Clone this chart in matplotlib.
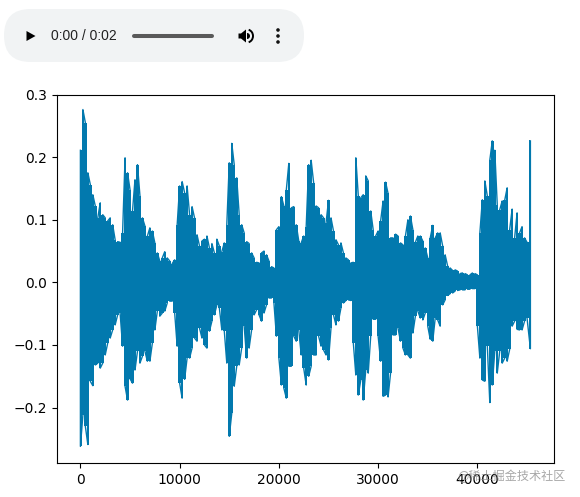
import matplotlib
matplotlib.use('Agg')
import matplotlib.pyplot as plt
from matplotlib.patches import FancyBboxPatch, Polygon, Circle, Wedge, Arc
import numpy as np

# waveform envelope, one value every 250 samples
upper = [.212, .276, .255, .175, .156, .140, .122, .103, .127, .108, .103, .098, .103, .092, .068, .065, .064, .079,
         .199, .175, .148, .114, .164, .188, .138, .103, .090, .074, .087, .082, .063, .047, .034, .039, .049, .039,
         .034, .030, .036, .092, .154, .161, .143, .154, .108, .121, .103, .076, .058, .066, .069, .074, .055, .062,
         .047, .069, .058, .049, .063, .092, .191, .222, .188, .167, .108, .092, .079, .065, .062, .047, .039, .032,
         .031, .047, .050, .044, .034, .025, .023, .084, .089, .137, .122, .148, .190, .119, .121, .092, .066,
         .063, .074, .089, .188, .195, .159, .122, .119, .108, .103, .095, .131, .103, .082, .068, .060, .063, .047,
         .039, .036, .031, .032, .199, .138, .135, .140, .170, .162, .114, .084, .074, .082, .098, .130, .160, .142,
         .071, .071, .077, .074, .063, .060, .074, .100, .106, .084, .064, .074, .074, .066, .055, .039, .071, .091,
         .071, .079, .079, .058, .044, .026, .023, .019, .020, .018, .014, .015, .014, .012, .012, .015, .014, .012,
         .079, .132, .162, .138, .195, .226, .211, .124, .116, .130, .131, .151, .084, .117, .071, .111, .079, .089,
         .071, .064, .227]
lower = [-.262, -.212, -.230, -.259, -.158, -.165, -.132, -.129, -.137, -.129, -.116, -.097, -.089, -.076, -.068,
         -.052, -.049, -.102, -.166, -.188, -.154, -.161, -.140, -.110, -.129, -.118, -.110, -.126, -.126, -.097,
         -.076, -.046, -.054, -.049, -.046, -.033, -.030, -.030, -.049, -.102, -.161, -.185, -.155, -.121, -.121,
         -.105, -.089, -.094, -.073, -.089, -.100, -.105, -.078, -.062, -.052, -.036, -.041, -.076, -.078, -.129,
         -.246, -.209, -.166, -.134, -.132, -.105, -.070, -.121, -.105, -.076, -.052, -.044, -.052, -.062, -.049,
         -.036, -.025, -.025, -.033, -.086, -.121, -.164, -.169, -.185, -.134, -.134, -.086, -.094,
         -.076, -.116, -.137, -.164, -.150, -.134, -.116, -.116, -.086, -.102, -.108, -.116, -.124, -.073, -.052,
         -.068, -.062, -.041, -.033, -.029, -.028, -.029, -.097, -.148, -.180, -.156, -.188, -.140, -.145, -.086,
         -.059, -.059, -.086, -.126, -.182, -.180, -.183, -.145, -.084, -.084, -.073, -.094, -.105, -.116, -.116,
         -.121, -.081, -.054, -.046, -.057, -.060, -.049, -.070, -.091, -.094, -.057, -.060, -.070, -.036, -.028,
         -.021, -.018, -.017, -.014, -.013, -.012, -.012, -.012, -.011, -.011, -.010, -.010, -.070, -.121, -.156,
         -.158, -.102, -.192, -.164, -.110, -.145, -.110, -.129, -.121, -.126, -.107, -.070, -.062, -.075, -.076,
         -.076, -.062, -.057, -.106]
x_ticks = [0, 10000, 20000, 30000, 40000]
y_ticks = [-0.2, -0.1, 0.0, 0.1, 0.2, 0.3]

n = min(len(upper), len(lower))
t_grid = np.arange(n) * 250.0
t_grid[-1] = 45340

# up-down strokes at every step, filled in between so the band comes out solid
t = []
y = []
for i in range(n):
    t += [t_grid[i], t_grid[i]]
    if i % 2 == 0:
        y += [upper[i], lower[i]]
    else:
        y += [lower[i], upper[i]]

W, H = 580, 497
fig = plt.figure(figsize=(W / 100, H / 100), dpi=100)

ax = fig.add_axes([57 / W, 1 - 463 / H, 496.5 / W, 368.5 / H])
ax.fill_between(t_grid, lower[:n], upper[:n], step='mid', color='#0279ae', lw=0)
ax.plot(t, y, color='#0279ae', lw=1.0, solid_capstyle='butt')
ax.set_xlim(-2358, 47668)
ax.set_ylim(-0.2885, 0.3)
ax.set_xticks(x_ticks)
ax.set_yticks(y_ticks)

# audio player and watermark, drawn in pixel coordinates
ui = fig.add_axes([0, 0, 1, 1])
ui.set_xlim(0, W)
ui.set_ylim(H, 0)
ui.axis('off')
ui.patch.set_alpha(0)

ui.add_patch(FancyBboxPatch((4, 9), 300, 53, boxstyle='round,pad=0,rounding_size=26.5',
                            fc='#f1f3f4', ec='none'))
ui.add_patch(Polygon([(26.5, 31), (26.5, 41), (35.5, 36)], fc='black', ec='none'))
ui.text(51, 36, '0:00 / 0:02', fontsize=10, family='Liberation Sans', color='#222222', va='center', ha='left')
ui.plot([134, 212], [36, 36], color='#595959', lw=2.9, solid_capstyle='round')

# speaker
ui.add_patch(Polygon([(238.5, 33.5), (241, 33.5), (246, 29.5), (246, 42.5), (241, 38.5), (238.5, 38.5)],
                     fc='black', ec='none'))
ui.add_patch(Wedge((247, 36), 3, -90, 90, fc='black', ec='none'))
ui.add_patch(Arc((247, 36), 12, 13, theta1=-75, theta2=75, color='black', lw=1.4))

for dot_y in [30, 36, 42]:
    ui.add_patch(Circle((278, dot_y), 1.8, fc='#111111', ec='none'))

ui.text(565.5, 476, '@稀土掘金技术社区', fontsize=8.7, color='#8a8a8a', alpha=0.75, ha='right', va='center',
        family=['Noto Sans CJK SC', 'DejaVu Sans'])

fig.savefig('out.png', dpi=100)
